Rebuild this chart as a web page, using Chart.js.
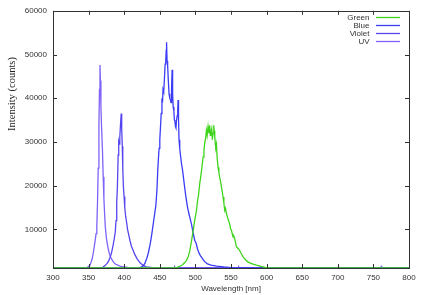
<!DOCTYPE html>
<html>
<head>
<meta charset="utf-8">
<script src="https://cdn.jsdelivr.net/npm/chart.js@4/dist/chart.umd.min.js"></script>
<style>
html,body{margin:0;padding:0;background:#fff;}
#wrap{width:422px;height:295px;position:relative;}
</style>
</head>
<body>
<div id="wrap"><canvas id="c" width="422" height="295"></canvas></div>
<script>
// ---- data ----
const seriesNames = ['Green', 'Blue', 'Violet', 'UV'];
const seriesColors = ['#3fd41c', '#3a3cf6', '#5646ee', '#7f62f7'];

const xTicks = [300, 350, 400, 450, 500, 550, 600, 650, 700, 750, 800];
const yTicks = [10000, 20000, 30000, 40000, 50000, 60000];

const greenNm = [300,465,470,474,478,482,485,487.5,490,492,494,495.5,497,499,501.5,503,504.5,506,507.5,509,510.8,512,513,514.5,515.5,516.5,517.8,519,520,521,521.5,522.9,523.8,524.8,525.8,526.5,527.2,528,528.6,529.5,530.5,531.8,533,534,535.3,536.6,537.8,538.8,540,541.2,542.3,543.5,545,546.5,548,549.3,550.6,552,553,554,555,556.3,557.6,560,562,564.5,567,570,574,580,585.7,592,598,603,800];
const greenVal = [1150,1150,1200,1300,1500,1900,2400,2900,3800,5000,6800,8300,9800,12000,14300,16500,18000,20400,22000,24000,26500,28000,29600,31000,32600,31500,33500,32000,33800,31500,31900,33000,30500,32000,33800,32500,31100,29500,28800,29500,26500,24200,23000,22000,21000,19700,18500,17400,16000,14300,14800,13600,12800,12000,11300,10200,9800,8800,8200,8400,8000,7000,6000,5600,5200,4400,3700,3100,2500,2100,1800,1500,1300,1200,1150];

const blueNm = [300,418,422,426,429,432,434,436,437.5,439,441,443,444.5,446,447,448,449,450,451,452,453,453.8,454.5,455.5,456.5,457.5,458.3,459,459.5,460.2,461,462,463,464,465,465.8,466.5,467.3,468,468.8,469.8,470.5,471.2,472,472.7,473.5,474.5,475.2,475.7,476.3,477,478,479,480.5,482,483.5,485,487,489,491,492.5,494.5,496.5,499,501,503,505,507,510,513,517,522,530,540,550,560,800];
const blueVal = [1150,1150,1250,1500,2200,3500,4700,6200,7600,9200,11500,13800,15500,19000,23000,26000,28500,30500,33500,36500,40000,39000,42000,41500,44500,47800,48200,51000,52800,48500,47500,44000,41000,40000,39500,39000,42000,46500,41000,38000,37000,35000,34800,33500,33200,35000,36000,37500,39600,35500,30500,28500,27000,25000,23500,21500,19500,17000,15000,13500,12500,11200,9500,7500,6800,5500,4600,4000,3300,2600,2100,1800,1600,1400,1250,1150,1150];

const violetNm = [300,365,370,373,376,378,380,382,384,386,387.5,388.5,389.5,390.5,391.5,392.3,393,393.8,394.8,395.8,396.5,397.3,398,398.8,399.8,400.8,402,403.5,404.7,406,408,410,412.5,415,418,422,426,431,440,800];
const violetVal = [1150,1150,1300,1700,2200,2700,3500,4500,6000,7800,9500,12000,16000,20000,27000,30000,29500,31000,34000,36500,33000,29000,24000,20000,17500,15000,13000,11500,10000,9000,7500,6200,5200,4200,3300,2400,1800,1400,1250,1150];

const uvNm = [300,340,348,352,355,357,359,360.5,361.5,362.5,363.5,364.5,365.3,366,366.6,367.3,368.3,369.5,370.5,371.5,372.5,373.5,375,377,379,381,383,385,388,391,395,400,405,410,420,430,470,471,472,560,561,562,700,701,702,760,761,762,800];
const uvVal = [1150,1150,1250,1800,3200,5000,7200,9000,10500,16000,24000,34000,42000,47600,44000,38000,33000,28000,22000,17000,13500,10500,8000,6000,4500,3600,3000,2500,2000,1800,1500,1400,1300,1250,1200,1150,1150,1450,1150,1150,1400,1150,1150,1450,1150,1150,1500,1150,1150];

const xMin = 300, xMax = 800, yMin = 1150, yMax = 60000;

function pts(nm, val){ return nm.map((x,i)=>({x:x, y:val[i]})); }

const datasets = [
  pts(greenNm, greenVal), pts(blueNm, blueVal), pts(violetNm, violetVal), pts(uvNm, uvVal)
].map((d,i)=>({
  label: seriesNames[i], data: d, borderColor: seriesColors[i], backgroundColor: seriesColors[i],
  borderWidth: 1.3, pointRadius: 0, tension: 0, fill: false
}));

const axisColor = '#333';
const sans = "'Liberation Sans', Arial, sans-serif";

const framePlugin = {
  id: 'frame',
  afterDraw(chart){
    const ctx = chart.ctx, a = chart.chartArea;
    const xs = chart.scales.x, ys = chart.scales.y;
    ctx.save();
    ctx.strokeStyle = axisColor; ctx.lineWidth = 1;
    ctx.strokeRect(Math.round(a.left)+0.5, Math.round(a.top)+0.5, Math.round(a.right-a.left), Math.round(a.bottom-a.top));
    const tl = 4;
    ctx.beginPath();
    xTicks.forEach(v=>{
      const px = Math.round(xs.getPixelForValue(v))+0.5;
      ctx.moveTo(px, a.bottom); ctx.lineTo(px, a.bottom-tl);
      ctx.moveTo(px, a.top); ctx.lineTo(px, a.top+tl);
    });
    yTicks.forEach(v=>{
      const py = Math.round(ys.getPixelForValue(v))+0.5;
      ctx.moveTo(a.left, py); ctx.lineTo(a.left+tl, py);
      ctx.moveTo(a.right, py); ctx.lineTo(a.right-tl, py);
    });
    ctx.stroke();

    // legend
    ctx.font = "8px " + sans;
    ctx.fillStyle = axisColor;
    ctx.textAlign = 'right'; ctx.textBaseline = 'middle';
    chart.data.datasets.forEach((ds,i)=>{
      const y = 17.5 + i*8;
      ctx.fillText(ds.label, 369.5, y);
      ctx.strokeStyle = ds.borderColor; ctx.lineWidth = 1.3;
      ctx.beginPath(); ctx.moveTo(376, y); ctx.lineTo(400, y); ctx.stroke();
    });

    // y axis title
    ctx.fillStyle = '#222';
    ctx.font = "10.5px 'Liberation Serif', 'Times New Roman', serif";
    ctx.translate(12, 94);
    ctx.rotate(-Math.PI/2);
    ctx.textAlign = 'center'; ctx.textBaseline = 'middle';
    ctx.fillText('Intensity (counts)', 0, 0);
    ctx.restore();
  }
};

new Chart(document.getElementById('c'), {
  type: 'line',
  data: { datasets },
  options: {
    responsive: false, animation: false, devicePixelRatio: 1,
    layout: { padding: { left: 0, top: 10, right: 13, bottom: 0 } },
    plugins: { legend: { display: false }, tooltip: { enabled: false } },
    scales: {
      x: {
        type: 'linear', min: xMin, max: xMax,
        afterBuildTicks: s => { s.ticks = xTicks.map(v=>({value:v})); },
        afterFit: s => { s.height = 27; },
        grid: { display: false, drawTicks: false },
        border: { display: false },
        ticks: { color: axisColor, font: { size: 8, family: sans }, padding: 5, maxRotation: 0, autoSkip: false },
        title: { display: true, text: 'Wavelength [nm]', color: axisColor, font: { size: 8, family: sans }, padding: { top: 0, bottom: 1 } }
      },
      y: {
        type: 'linear', min: yMin, max: yMax,
        afterBuildTicks: s => { s.ticks = yTicks.map(v=>({value:v})); },
        afterFit: s => { s.width = 53; },
        grid: { display: false, drawTicks: false },
        border: { display: false },
        ticks: { color: axisColor, font: { size: 8, family: sans }, padding: 6, callback: v => String(v) }
      }
    }
  },
  plugins: [framePlugin]
});
</script>
</body>
</html>
